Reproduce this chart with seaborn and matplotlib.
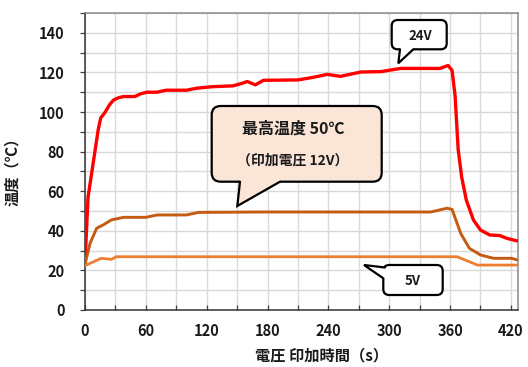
import matplotlib
matplotlib.use("Agg")
import matplotlib.pyplot as plt
from matplotlib.patches import FancyBboxPatch, Polygon
from matplotlib.lines import Line2D
from matplotlib.transforms import Affine2D
from matplotlib.ticker import MultipleLocator
import seaborn as sns
import pandas as pd

# 24V
t_24v = [0, 3, 8, 13, 15.5, 20, 24, 28, 33, 38, 49, 55, 61, 71, 80, 100, 110, 126, 146, 155, 160, 168, 176,
         210, 225, 239, 252, 272, 292, 311, 350, 358, 362, 365, 368, 371.5, 376, 383, 390, 399, 409, 416, 426]
v_24v = [23.6, 57, 74, 91, 97, 100, 103.5, 106, 107.2, 107.8, 107.8, 109.2, 110, 110, 111, 111, 112, 112.8, 113.2,
         114.5, 115.4, 113.7, 116, 116.2, 117.5, 119, 118, 120.2, 120.4, 122, 122, 123.5, 121, 108, 81, 67,
         55.6, 45.5, 40.4, 37.9, 37.6, 36.2, 34.9]
# 12V
t_12v = [0, 5, 11.5, 18, 26, 38, 60, 71, 100, 112, 176, 341, 357, 362, 370.5, 379, 390, 403, 421, 426]
v_12v = [23, 33.7, 41.3, 43, 45.5, 46.8, 46.8, 48, 48, 49.3, 49.5, 49.5, 51.4, 50.8, 38.7, 31.2, 27.8, 26.1, 26.1, 25.3]
# 5V
t_5v = [0, 16, 26, 31, 367, 387, 426]
v_5v = [22.4, 26.1, 25.6, 26.9, 26.9, 22.7, 22.7]

series_names = ["24V", "12V", "5V"]
series_colors = ["#ff0000", "#c55a11", "#ed7d31"]
series_widths = [2.4, 2.1, 2.0]

x_ticks = [0, 60, 120, 180, 240, 300, 360, 420]
y_ticks = [0, 20, 40, 60, 80, 100, 120, 140]

df = pd.concat([
    pd.DataFrame({"t": t_24v, "temp": v_24v, "series": "24V"}),
    pd.DataFrame({"t": t_12v, "temp": v_12v, "series": "12V"}),
    pd.DataFrame({"t": t_5v, "temp": v_5v, "series": "5V"}),
])

sns.set_style("white")
plt.rcParams['font.family'] = ['Noto Sans CJK JP', 'DejaVu Sans']

W, H = 528, 367
fig = plt.figure(figsize=(W / 100, H / 100), dpi=100)
ax = fig.add_axes([85 / W, (H - 310) / H, (518 - 85) / W, (310 - 13) / H])

for name, col, lw in zip(series_names, series_colors, series_widths):
    sub = df[df["series"] == name]
    sns.lineplot(data=sub, x="t", y="temp", color=col, linewidth=lw, ax=ax,
                 estimator=None, sort=False, zorder=3, solid_joinstyle="round")

ax.set_xlim(0, 427)
ax.set_ylim(0, 150)
ax.set_xticks(x_ticks)
ax.set_yticks(y_ticks)
ax.xaxis.set_minor_locator(MultipleLocator(30))
ax.yaxis.set_minor_locator(MultipleLocator(10))
ax.grid(True, which="both", color="#d9d9d9", linewidth=1.0, zorder=0)
ax.set_axisbelow(True)

ax.tick_params(axis="y", which="both", direction="out", length=3.5, width=0.9, color="#404040",
               left=True, pad=11)
ax.tick_params(axis="x", which="both", direction="in", length=3.5, width=0.9, color="#404040",
               bottom=True, pad=9)
for lab in ax.get_xticklabels() + ax.get_yticklabels():
    lab.set_fontsize(10.5)
    lab.set_fontweight("bold")
    lab.set_color("#1a1a1a")

for side in ["left", "bottom"]:
    ax.spines[side].set_color("#333333")
    ax.spines[side].set_linewidth(1.1)
for side in ["top", "right"]:
    ax.spines[side].set_color("#8a8a8a")
    ax.spines[side].set_linewidth(1.1)

ax.set_xlabel("電圧 印加時間（s）", fontsize=11, fontweight="bold", color="#1a1a1a")
ax.xaxis.set_label_coords((322 - 85) / 433, -0.125)
ax.set_ylabel("温度（℃）", fontsize=11, fontweight="bold", color="#1a1a1a")
ax.yaxis.set_label_coords((20 - 85) / 433, 0.48)

# speech bubbles drawn in pixel coordinates (origin top-left)
pix = Affine2D().scale(1, -1).translate(0, H)


def bubble(x0, x1, y0, y1, b1, tip, b2, inner, face, radius):
    box = FancyBboxPatch((x0, y0), x1 - x0, y1 - y0,
                         boxstyle="round,pad=0,rounding_size=%g" % radius,
                         facecolor=face, edgecolor="black", linewidth=1.6,
                         transform=pix, zorder=5)
    fig.add_artist(box)
    cover = Polygon([b1, tip, b2, inner[1], inner[0]], closed=True, facecolor=face,
                    edgecolor="none", transform=pix, zorder=6)
    fig.add_artist(cover)
    side = Line2D([b1[0], tip[0], b2[0]], [b1[1], tip[1], b2[1]], color="black",
                  linewidth=1.6, solid_joinstyle="miter", transform=pix, zorder=7)
    fig.add_artist(side)


bubble(391.7, 446.7, 20, 49.3, (400, 49.3), (398.3, 63.3), (413.3, 49.3),
       [(400, 46), (413.3, 46)], "white", 6)
fig.text(420, 35.5, "24V", transform=pix, ha="center", va="center", fontsize=9.5,
         fontweight="bold", color="#1a1a1a", zorder=8)

bubble(211.7, 381.7, 106, 181.7, (240, 181.7), (237.3, 206), (280, 181.7),
       [(240, 178), (280, 178)], "#fbe5d6", 9)
fig.text(293, 129, "最高温度 50℃", transform=pix, ha="center", va="center", fontsize=11.5,
         fontweight="bold", color="#1a1a1a", zorder=8)
fig.text(293, 161, "（印加電圧 12V）", transform=pix, ha="center", va="center", fontsize=10,
         fontweight="bold", color="#1a1a1a", zorder=8)

bubble(383.3, 442.7, 265, 295, (385, 267.5), (364, 265), (383.3, 278.3),
       [(389, 267.5), (387, 278.3)], "white", 6)
fig.text(413, 281, "5V", transform=pix, ha="center", va="center", fontsize=9.5,
         fontweight="bold", color="#1a1a1a", zorder=8)

fig.savefig("out.png", dpi=100)
